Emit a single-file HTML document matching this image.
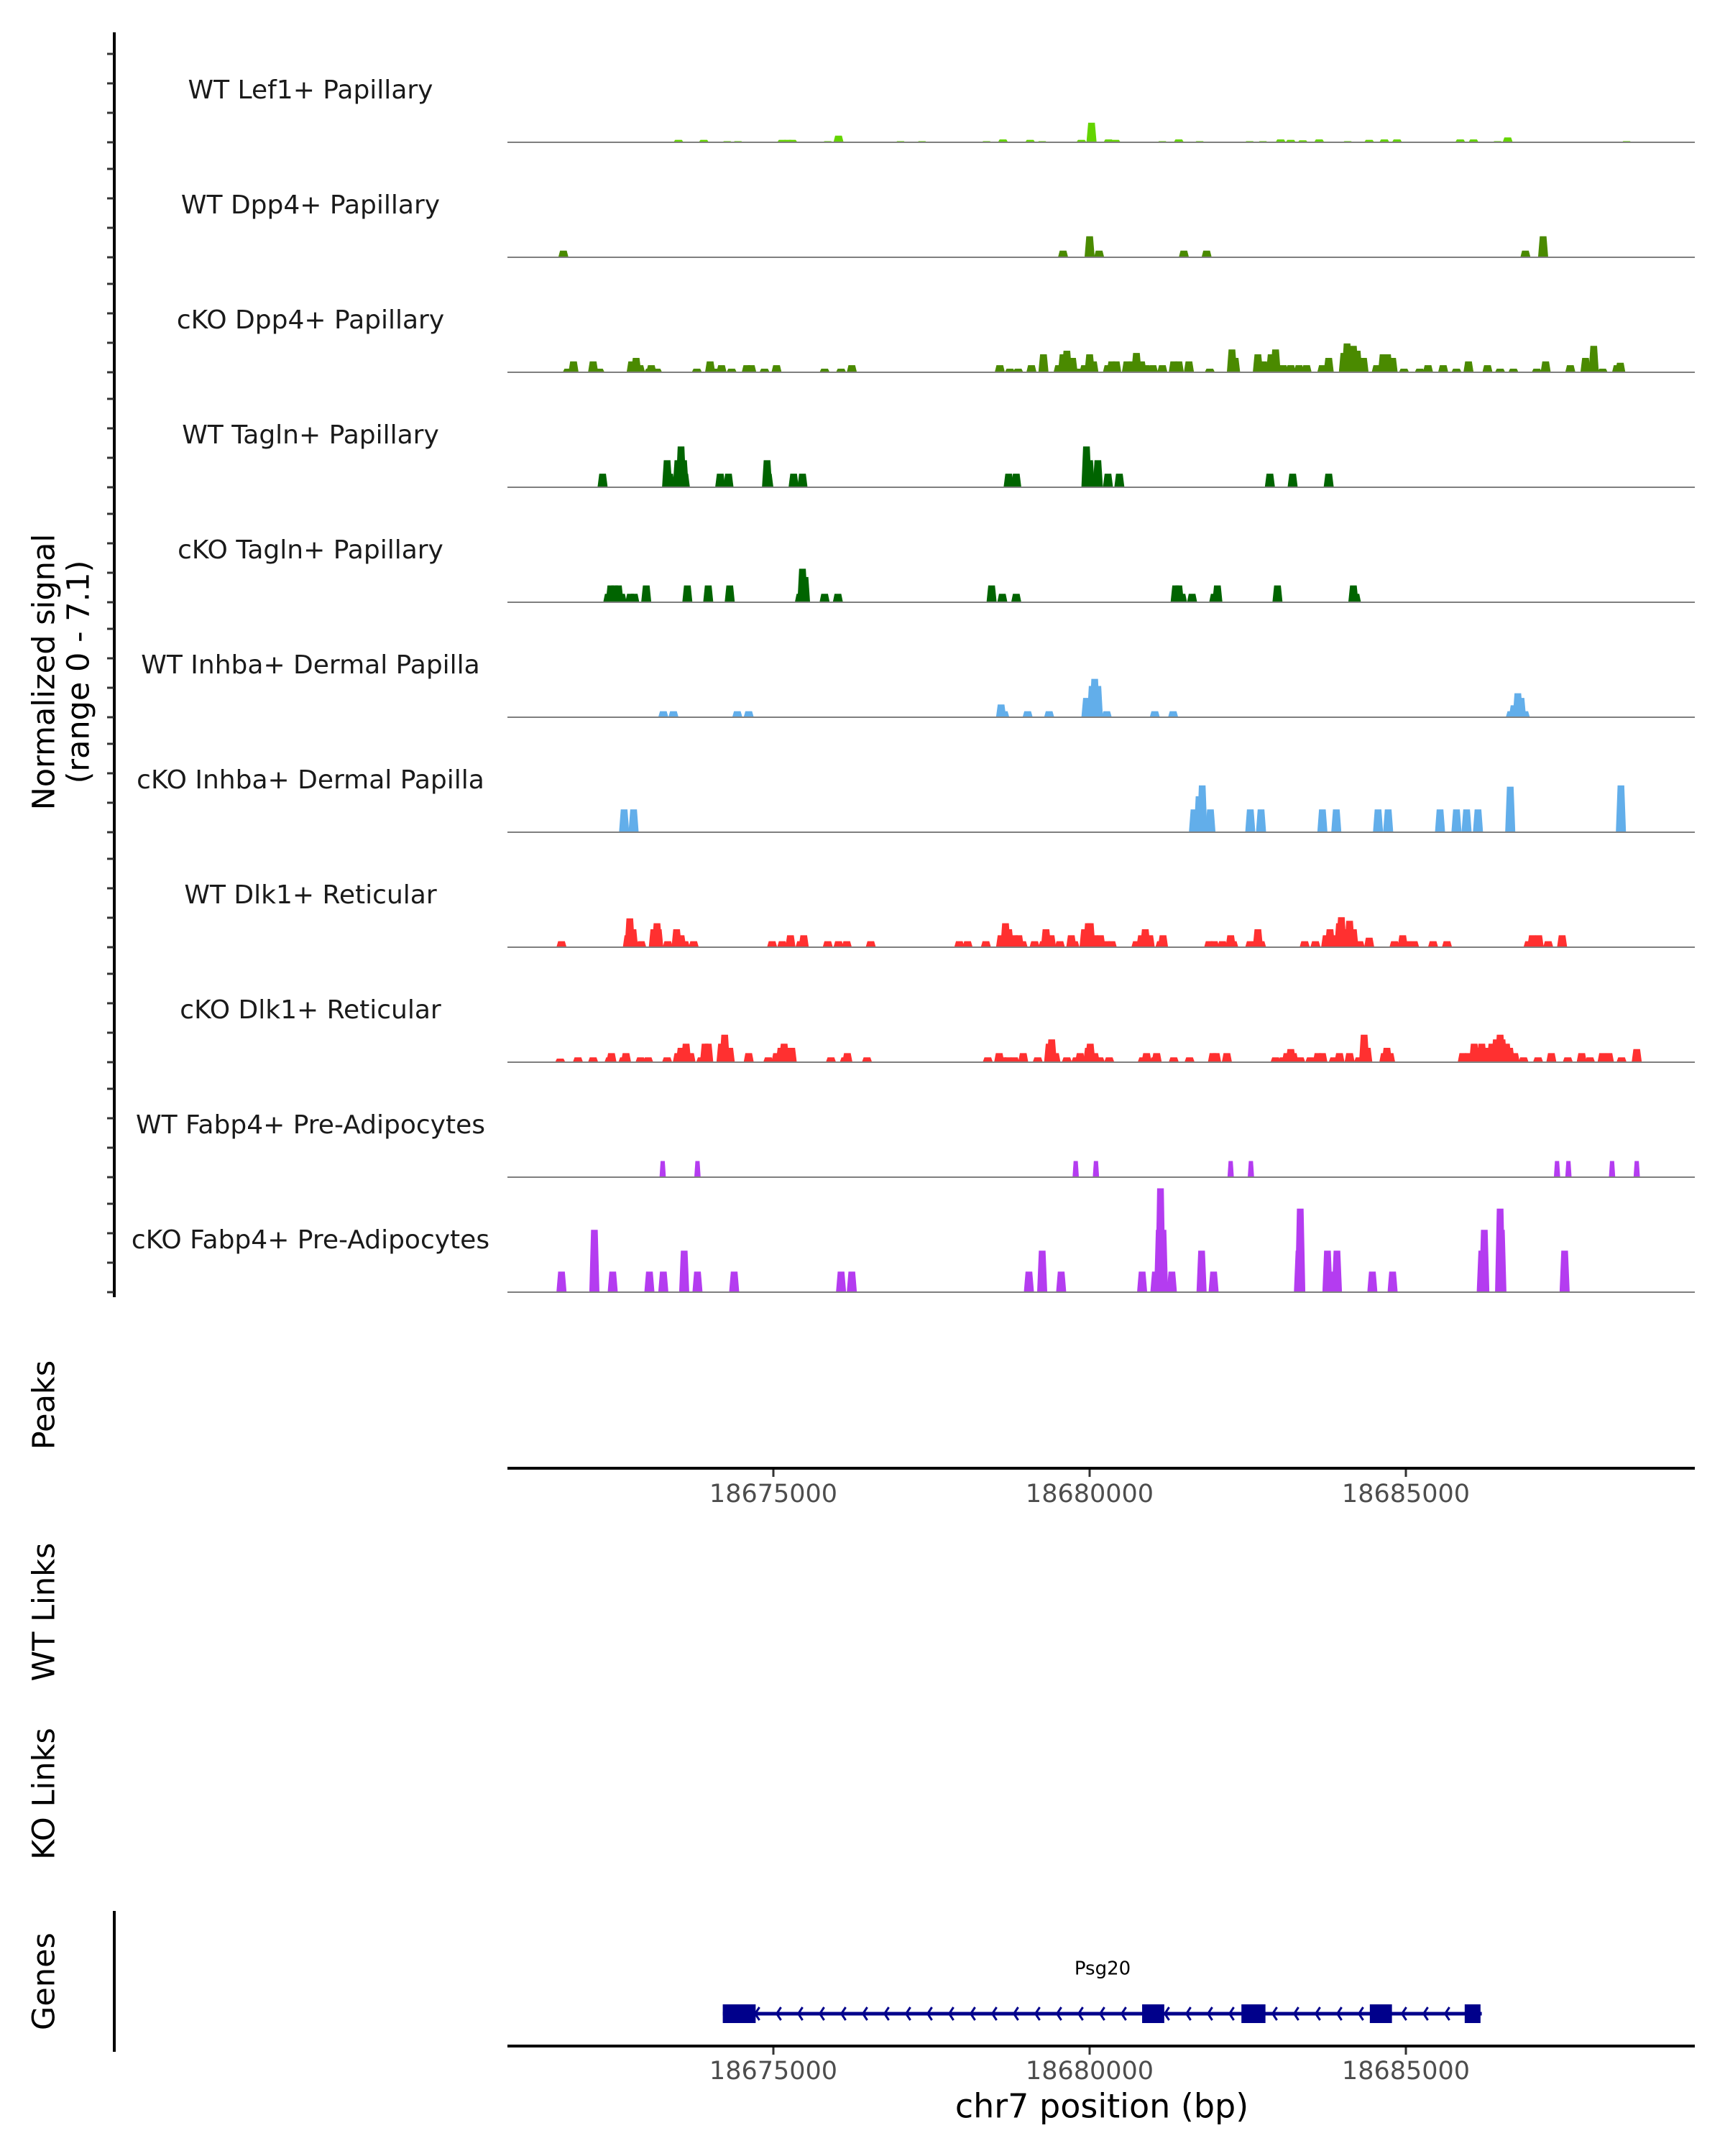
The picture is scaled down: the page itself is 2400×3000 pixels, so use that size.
<!DOCTYPE html>
<html><head><meta charset="utf-8"><style>
html,body{margin:0;padding:0;background:#fff;}
svg{display:block;font-family:"DejaVu Sans","Liberation Sans",sans-serif;}
</style></head><body>
<svg id="chart" xmlns="http://www.w3.org/2000/svg" width="2400" height="3000" viewBox="0 0 2400 3000">
<g id="tracks"></g>
<g id="axes"></g>
</svg>
<script>
// positions are kb offsets from chr7:18,670,000 ; heights are normalized signal
const trackNames = ["WT Lef1+ Papillary","WT Dpp4+ Papillary","cKO Dpp4+ Papillary","WT Tagln+ Papillary","cKO Tagln+ Papillary","WT Inhba+ Dermal Papilla","cKO Inhba+ Dermal Papilla","WT Dlk1+ Reticular","cKO Dlk1+ Reticular","WT Fabp4+ Pre-Adipocytes","cKO Fabp4+ Pre-Adipocytes"];
const trackColors = ["#64d400","#4a8a00","#4a8a00","#006400","#006400","#62aeea","#62aeea","#ff3030","#ff3030","#b43cf0","#b43cf0"];
const pos0 = [3.50,3.90,4.27,4.44,5.14,5.23,5.30,5.86,6.03,7.01,7.35,8.37,8.63,9.06,9.25,9.87,10.03,10.30,10.41,11.15,11.41,11.74,12.53,12.74,13.02,13.18,13.37,13.63,14.08,14.42,14.66,14.86,15.86,16.07,16.45,16.61,18.49];
const val0 = [0.15,0.15,0.07,0.07,0.15,0.15,0.15,0.07,0.41,0.07,0.07,0.07,0.18,0.15,0.07,0.15,1.21,0.18,0.15,0.07,0.18,0.07,0.07,0.07,0.18,0.15,0.12,0.18,0.07,0.15,0.18,0.18,0.18,0.18,0.07,0.30,0.07];
const pos1 = [1.68,9.58,10.00,10.15,11.49,11.85,16.89,17.17];
const val1 = [0.41,0.41,1.30,0.41,0.41,0.41,0.41,1.30];
const pos2 = [1.75,1.84,2.15,2.25,2.76,2.83,2.89,3.04,3.07,3.16,3.79,4.00,4.08,4.18,4.34,4.58,4.65,4.86,5.05,5.81,6.07,6.24,8.58,8.74,8.87,9.08,9.27,9.51,9.58,9.64,9.73,9.82,9.92,10.00,10.06,10.29,10.35,10.42,10.59,10.67,10.74,10.82,10.89,11.00,11.15,11.33,11.41,11.57,11.90,12.25,12.30,12.66,12.75,12.87,12.94,13.06,13.18,13.31,13.43,13.68,13.78,14.02,14.07,14.17,14.23,14.33,14.54,14.64,14.71,14.79,14.97,15.22,15.35,15.59,15.80,15.99,16.29,16.49,16.70,17.07,17.21,17.60,17.84,17.97,18.11,18.34,18.39];
const val2 = [0.22,0.67,0.67,0.22,0.67,0.89,0.44,0.22,0.44,0.22,0.22,0.67,0.22,0.44,0.22,0.44,0.44,0.22,0.44,0.22,0.22,0.44,0.44,0.22,0.22,0.44,1.11,0.44,1.11,1.33,0.89,0.22,0.44,1.11,0.67,0.44,0.67,0.67,0.67,0.67,1.19,0.67,0.44,0.44,0.44,0.67,0.67,0.67,0.22,1.41,0.89,1.11,0.67,1.11,1.41,0.44,0.44,0.44,0.44,0.44,0.89,1.19,1.78,1.63,1.33,0.89,0.44,1.11,1.11,0.89,0.22,0.22,0.44,0.44,0.22,0.67,0.44,0.22,0.22,0.22,0.67,0.44,0.89,1.63,0.22,0.44,0.59];
const pos3 = [2.30,3.32,3.36,3.49,3.54,3.58,3.60,4.16,4.29,4.90,4.92,5.32,5.46,8.72,8.84,9.95,10.00,10.13,10.29,10.47,12.85,13.21,13.78];
const val3 = [0.84,1.67,0.84,1.67,2.52,1.67,0.84,0.84,0.84,1.67,0.84,0.84,0.84,0.84,0.84,2.52,1.67,1.67,0.84,0.84,0.84,0.84,0.84];
const pos4 = [2.39,2.43,2.49,2.55,2.60,2.74,2.80,2.99,3.64,3.97,4.31,5.42,5.46,5.50,5.81,6.02,8.45,8.62,8.84,11.36,11.41,11.46,11.62,11.97,12.02,12.97,14.17,14.21];
const val4 = [0.52,1.04,1.04,1.04,0.52,0.52,0.52,1.04,1.04,1.04,1.04,0.52,2.07,1.56,0.52,0.52,1.04,0.52,0.52,1.04,1.04,0.52,0.52,0.52,1.04,1.04,1.04,0.52];
const pos5 = [3.26,3.42,4.43,4.61,8.60,8.65,9.02,9.36,9.95,10.04,10.08,10.13,10.27,11.03,11.32,16.66,16.71,16.77,16.82,16.88];
const val5 = [0.37,0.37,0.37,0.37,0.79,0.37,0.37,0.37,1.19,1.93,2.37,1.93,0.37,0.37,0.37,0.37,0.74,1.48,1.19,0.37];
const pos6 = [2.64,2.79,11.65,11.73,11.78,11.91,12.54,12.71,13.68,13.90,14.56,14.72,15.54,15.80,15.96,16.14,16.65,18.40];
const val6 = [1.41,1.41,1.41,2.22,2.89,1.41,1.41,1.41,1.41,1.41,1.41,1.41,1.41,1.41,1.41,1.41,2.81,2.89];
const pos7 = [1.65,2.70,2.73,2.78,2.91,3.11,3.16,3.18,3.33,3.47,3.54,3.60,3.74,4.98,5.14,5.27,5.43,5.48,5.86,6.03,6.16,6.54,7.94,8.07,8.36,8.60,8.67,8.72,8.81,8.88,8.94,9.13,9.27,9.31,9.39,9.53,9.71,9.76,9.92,9.98,10.01,10.08,10.17,10.27,10.35,10.74,10.82,10.88,10.95,11.12,11.16,11.89,11.97,12.10,12.23,12.27,12.54,12.66,12.71,13.40,13.57,13.74,13.80,13.87,13.95,13.98,14.02,14.11,14.17,14.27,14.42,14.82,14.95,15.03,15.13,15.43,15.65,16.94,17.00,17.10,17.25,17.47];
const val7 = [0.37,0.74,1.78,1.11,0.37,1.11,1.48,1.11,0.37,1.11,0.74,0.37,0.37,0.37,0.37,0.74,0.37,0.74,0.37,0.37,0.37,0.37,0.37,0.37,0.37,0.74,1.48,1.11,0.74,0.74,0.37,0.37,0.37,1.11,0.74,0.37,0.74,0.37,1.11,1.48,1.48,0.74,0.74,0.37,0.37,0.37,0.74,1.11,0.74,0.37,0.74,0.37,0.37,0.37,0.74,0.37,0.37,1.11,0.37,0.37,0.37,0.74,1.11,0.74,1.48,1.85,1.11,1.63,1.11,0.37,0.59,0.37,0.74,0.37,0.37,0.37,0.37,0.37,0.74,0.74,0.37,0.74];
const pos8 = [1.63,1.91,2.15,2.41,2.44,2.63,2.67,2.90,3.02,3.32,3.49,3.54,3.62,3.69,3.86,3.92,3.97,4.18,4.23,4.31,4.61,4.92,5.05,5.12,5.17,5.23,5.29,5.91,6.13,6.17,6.48,8.39,8.57,8.63,8.71,8.81,8.95,9.18,9.36,9.40,9.46,9.64,9.79,9.85,9.98,10.01,10.08,10.16,10.31,10.84,10.90,11.03,11.06,11.33,11.58,11.95,12.00,12.17,12.94,13.06,13.12,13.18,13.22,13.33,13.49,13.61,13.68,13.86,13.95,14.11,14.26,14.34,14.39,14.66,14.70,14.75,15.90,15.99,16.08,16.14,16.20,16.29,16.36,16.43,16.49,16.52,16.59,16.64,16.72,16.86,17.09,17.30,17.56,17.78,17.91,18.11,18.21,18.41,18.65];
const val8 = [0.22,0.30,0.30,0.30,0.56,0.30,0.56,0.30,0.30,0.30,0.56,0.89,1.14,0.56,0.30,1.14,1.14,1.14,1.70,0.89,0.56,0.30,0.56,0.89,1.14,0.89,0.89,0.30,0.30,0.56,0.30,0.30,0.56,0.30,0.30,0.30,0.56,0.30,1.14,1.41,0.56,0.30,0.30,0.56,0.89,1.14,0.56,0.30,0.30,0.30,0.56,0.30,0.56,0.30,0.30,0.56,0.56,0.56,0.30,0.30,0.56,0.81,0.56,0.30,0.30,0.56,0.56,0.30,0.56,0.56,0.30,1.70,0.89,0.56,0.89,0.56,0.56,0.56,1.14,0.89,1.14,0.89,1.14,1.41,1.70,1.41,1.14,0.89,0.56,0.30,0.30,0.56,0.30,0.56,0.30,0.56,0.56,0.30,0.81];
const pos9 = [3.25,3.80,9.78,10.10,12.23,12.55,17.39,17.57,18.26,18.65];
const val9 = [1.0,1.0,1.0,1.0,1.0,1.0,1.0,1.0,1.0,1.0];
const pos10 = [1.65,2.17,2.46,3.04,3.26,3.59,3.80,4.38,6.07,6.24,9.04,9.25,9.55,10.83,11.04,11.10,11.12,11.16,11.30,11.77,11.96,13.31,13.33,13.76,13.84,13.91,14.47,14.79,16.20,16.24,16.49,16.51,17.51];
const val10 = [1.27,3.85,1.27,1.27,1.27,2.56,1.27,1.27,1.27,1.27,1.27,2.56,1.27,1.27,1.27,3.85,6.41,3.85,1.27,2.56,1.27,2.56,5.16,2.56,1.27,2.56,1.27,1.27,2.56,3.85,5.16,3.85,2.56];
const trackPos = [pos0,pos1,pos2,pos3,pos4,pos5,pos6,pos7,pos8,pos9,pos10];
const trackVal = [val0,val1,val2,val3,val4,val5,val6,val7,val8,val9,val10];
const xTicks = [18675000,18680000,18685000];
const xTickLabels = ["18675000","18680000","18685000"];
const geneName = "Psg20";
const geneStart = 18674.20, geneEnd = 18686.20;
const exonStarts = [18674.20,18680.83,18682.40,18684.43,18685.93];
const exonEnds   = [18674.72,18681.18,18682.78,18684.78,18686.18];

const NS="http://www.w3.org/2000/svg";
const X0=706, X1=2358;
function xs(kb){return 1516+(kb-10)*88;}
function xbp(bp){return xs((bp-18670000)/1000);}
const PXU=160/7.1;
function ys(base,v){return base-v*PXU;}
function mk(tag,attrs,parent){const e=document.createElementNS(NS,tag);for(const k in attrs)e.setAttribute(k,attrs[k]);parent.appendChild(e);return e;}
const tracks=document.getElementById('tracks'), axes=document.getElementById('axes'), svg=document.getElementById('chart');

for(let t=0;t<11;t++){
  const base=198+160*t;
  const g=mk('g',{},tracks);
  
  
  const lab=mk('text',{x:432,y:base-71,'font-size':36,'text-anchor':'middle','dominant-baseline':'middle',fill:'#1a1a1a'},g);
  lab.textContent=trackNames[t];
  
  
  const P=trackPos[t], V=trackVal[t];
  const w=(t===9)?0.1:0.16;
  for(let i=0;i<P.length;i++){
    const xl=xs(P[i]-w/2), xr=xs(P[i]+w/2), xm=(xl+xr)/2, hw=(xr-xl)*0.33;
    const yt=ys(base,V[i]);
    const p=mk('polygon',{points:`${xl},${base} ${xm-hw},${yt} ${xm+hw},${yt} ${xr},${base}`,fill:trackColors[t]},g);
    
    
  }
  const bl=mk('line',{x1:X0,x2:X1,y1:base,y2:base,stroke:'#7f7f7f','stroke-width':2},g);
  
  
}
const ax=mk('line',{x1:159,x2:159,y1:45,y2:1805,stroke:'#000','stroke-width':4},axes);


for(let t=0;t<11;t++){for(let k=0;k<4;k++){const y=198+160*t-41*k;
  const tk=mk('line',{x1:149,x2:158,y1:y,y2:y,stroke:'#333','stroke-width':3},axes);
  
  }}
function vtext(x,y,s,name,size){const e=mk('text',{x:x,y:y,'font-size':size||40,'text-anchor':'middle','dominant-baseline':'middle',fill:'#000',transform:`rotate(-90 ${x} ${y})`},svg);e.textContent=s;return e;}
vtext(64,935,"Normalized signal","y-axis-title",43);
vtext(112,935,"(range 0 - 7.1)","y-axis-subtitle",43);
vtext(64,1955,"Peaks","peaks-label",43);
vtext(64,2243,"WT Links","wt-links-label",43);
vtext(64,2496,"KO Links","ko-links-label",43);
vtext(64,2757,"Genes","genes-label",43);
function xaxis(y,name,labelY){
  const l=mk('line',{x1:X0,x2:X1,y1:y,y2:y,stroke:'#000','stroke-width':4},axes);
  
  
  for(let i=0;i<xTicks.length;i++){const x=xbp(xTicks[i]);
    const tk=mk('line',{x1:x,x2:x,y1:y+2,y2:y+12,stroke:'#333','stroke-width':3},axes);
    
    
    const tl=mk('text',{x:x,y:labelY,'font-size':35,'text-anchor':'middle','dominant-baseline':'middle',fill:'#4d4d4d'},axes);
    tl.textContent=xTickLabels[i];
    
    }
}
xaxis(2043,'peaks-x-axis',2080);
xaxis(2847,'genes-x-axis',2883);
const ttl=mk('text',{x:1533,y:2934,'font-size':46,'text-anchor':'middle','dominant-baseline':'middle',fill:'#000'},axes);
ttl.textContent="chr7 position (bp)";


const gl=mk('line',{x1:159,x2:159,y1:2659,y2:2855,stroke:'#000','stroke-width':4},axes);


const gg=mk('g',{},svg);


const gy=2802;
const gline=mk('line',{x1:xs(geneStart-18670),x2:xs(geneEnd-18670),y1:gy,y2:gy,stroke:'#00008b','stroke-width':5},gg);


for(let x=xs(geneStart-18670)+45;x<xs(geneEnd-18670)-10;x+=30){
  const c=mk('polyline',{points:`${x+6},${gy-9} ${x},${gy} ${x+6},${gy+9}`,fill:'none',stroke:'#00008b','stroke-width':3},gg);
  
  
}
for(let i=0;i<exonStarts.length;i++){
  const a=xs(exonStarts[i]-18670), b=xs(exonEnds[i]-18670);
  const r=mk('rect',{x:a,y:gy-13,width:b-a,height:26,fill:'#00008b'},gg);
  
  
}
const gn=mk('text',{x:1534,y:2740,'font-size':26,'text-anchor':'middle','dominant-baseline':'middle',fill:'#000'},gg);
gn.textContent=geneName;


</script>
</body></html>
